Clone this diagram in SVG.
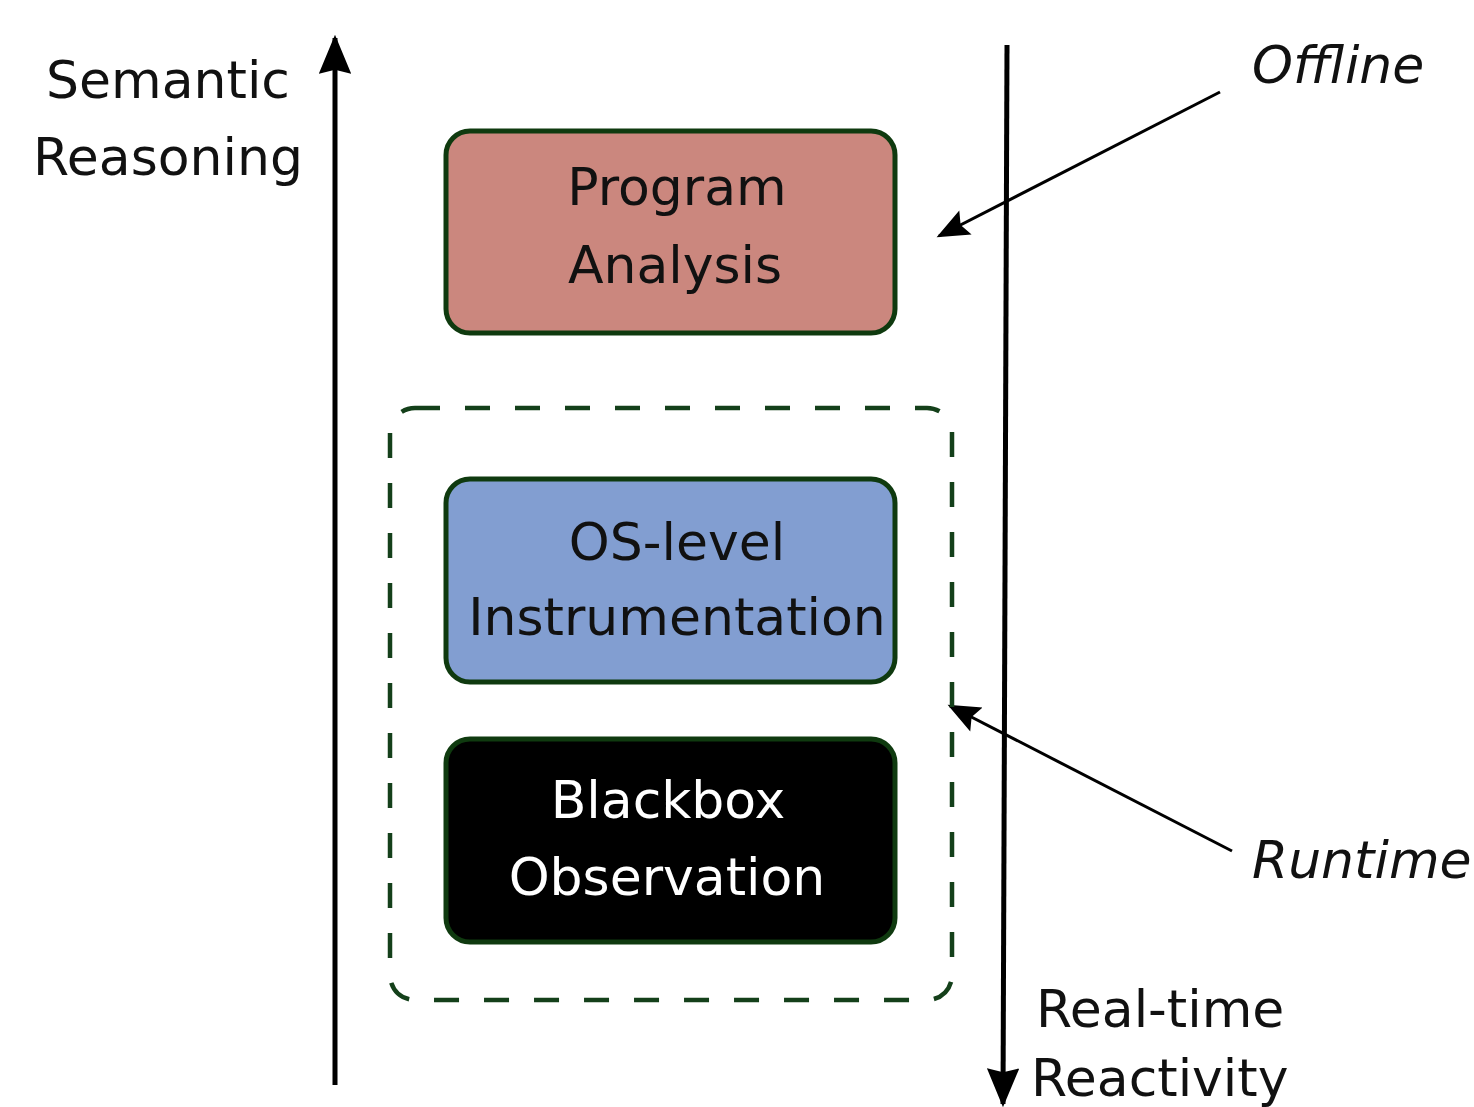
<svg xmlns="http://www.w3.org/2000/svg" width="1474" height="1107" viewBox="0 0 1474 1107">
  <style>
    text { font-family: "DejaVu Sans", "Liberation Sans", sans-serif; font-size: 52px; fill: #111; }
    .c { text-anchor: middle; }
    .it { font-style: italic; }
    .box { stroke: #0f3a0f; stroke-width: 5; }
    .axis { stroke: #000; stroke-width: 5; fill: none; }
    .pointer { stroke: #000; stroke-width: 3; fill: none; }
  </style>
  <defs>
    <marker id="bigHead" viewBox="0 0 12 10" refX="11" refY="5" markerWidth="8.4" markerHeight="6.5" markerUnits="strokeWidth" orient="auto">
      <path d="M0,0 L12,5 L0,10 L1.2,5 Z" fill="#000"/>
    </marker>
    <marker id="smallHead" viewBox="0 0 12 10" refX="11" refY="5" markerWidth="12" markerHeight="9" markerUnits="strokeWidth" orient="auto">
      <path d="M0,0 L12,5 L0,10 L2,5 Z" fill="#000"/>
    </marker>
  </defs>

  <rect width="1474" height="1107" fill="#fff"/>

  <!-- axes and pointers -->
  <g id="connectors">
    <line class="axis" x1="335" y1="1085" x2="335" y2="38" marker-end="url(#bigHead)"/>
    <line class="axis" x1="1007" y1="45" x2="1003" y2="1104" marker-end="url(#bigHead)"/>
    <line class="pointer" x1="1220" y1="92" x2="939" y2="236" marker-end="url(#smallHead)"/>
    <line class="pointer" x1="1232" y1="851" x2="950" y2="706" marker-end="url(#smallHead)"/>
  </g>

  <!-- dashed runtime grouping -->
  <g id="runtime-group">
    <rect x="390" y="408" width="562" height="592" rx="25" fill="none" stroke="#14401a" stroke-width="4.5" stroke-dasharray="25 25"/>
  </g>

  <g id="program-analysis">
    <rect class="box" x="446" y="131" width="449" height="202" rx="24" fill="#cb877e"/>
    <text class="c" x="677" y="205">Program</text>
    <text class="c" x="675" y="283">Analysis</text>
  </g>

  <g id="os-instrumentation">
    <rect class="box" x="446" y="479" width="449" height="203" rx="24" fill="#829ed1"/>
    <text class="c" x="677" y="560">OS-level</text>
    <text class="c" x="677" y="635">Instrumentation</text>
  </g>

  <g id="blackbox-observation">
    <rect class="box" x="446" y="739" width="449" height="203" rx="24" fill="#000"/>
    <text class="c" x="668" y="818" style="fill:#fff">Blackbox</text>
    <text class="c" x="667" y="895" style="fill:#fff">Observation</text>
  </g>

  <g id="labels">
    <text class="c" x="168" y="98">Semantic</text>
    <text class="c" x="168" y="175">Reasoning</text>
    <text class="it" x="1252" y="83">Offline</text>
    <text class="it" x="1252" y="878">Runtime</text>
    <text x="1036" y="1027">Real-time</text>
    <text x="1031" y="1096">Reactivity</text>
  </g>
</svg>
